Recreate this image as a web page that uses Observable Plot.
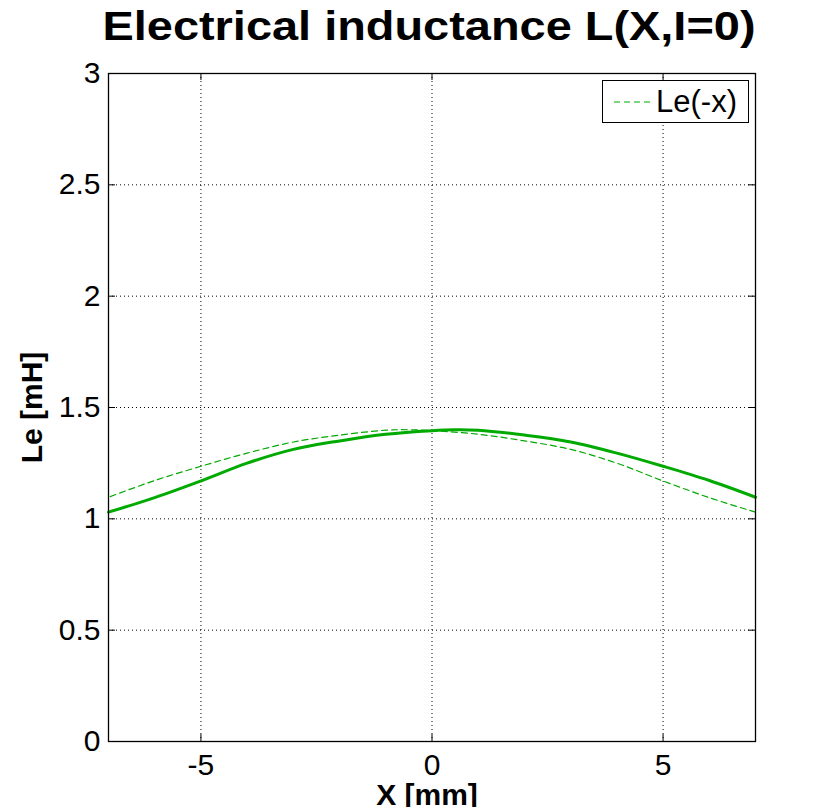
<!DOCTYPE html>
<html>
<head>
<meta charset="utf-8">
<script src="https://cdn.jsdelivr.net/npm/d3@7"></script>
<script src="https://cdn.jsdelivr.net/npm/@observablehq/plot@0.6"></script>
<style>
  html, body { margin: 0; padding: 0; background: #fff; }
  #wrap { position: relative; width: 834px; height: 807px; overflow: hidden; font-family: "Liberation Sans", Arial, sans-serif; }
  #legend { position: absolute; left: 602px; top: 80px; width: 145px; height: 41px; border: 1px solid #000; background: #fff; }
  #legend svg { position: absolute; left: 10px; top: 0; }
  #legend span { position: absolute; left: 53px; top: 3px; font-size: 31px; color: #000; }
</style>
</head>
<body>
<div id="wrap"></div>
<script>
// Data
const xs = [-7, -6, -5, -4, -3, -2, -1, 0, 0.5, 1, 2, 3, 4, 5, 6, 7];
const le = [1.03, 1.095, 1.17, 1.25, 1.312, 1.35, 1.38, 1.396, 1.40, 1.398, 1.376, 1.345, 1.295, 1.236, 1.172, 1.097];
const xTicks = [-5, 0, 5];
const yTicks = [0, 0.5, 1, 1.5, 2, 2.5, 3];
const yGrid = [0.5, 1, 1.5, 2, 2.5];
const titleText = "Electrical inductance L(X,I=0)";
const xLabel = "X [mm]";
const yLabel = "Le [mH]";
const legendLabel = "Le(-x)";
const green = "#00aa00";

const idx = xs.map((_, i) => i);

const chart = Plot.plot({
  width: 834,
  height: 807,
  marginLeft: 108,
  marginRight: 79,
  marginTop: 73,
  marginBottom: 66,
  style: { fontFamily: "'Liberation Sans', Arial, sans-serif", fontSize: "30px", background: "#fff", overflow: "visible" },
  x: { domain: [-7, 7] },
  y: { domain: [0, 3] },
  marks: [
    Plot.gridX(xTicks, { stroke: "#000", strokeOpacity: 1, strokeDasharray: "1,3" }),
    Plot.gridY(yGrid, { stroke: "#000", strokeOpacity: 1, strokeDasharray: "1,3" }),
    Plot.line(idx, { x: i => xs[i], y: i => le[i], stroke: green, strokeWidth: 3, curve: "catmull-rom" }),
    Plot.line(idx, { x: i => -xs[i], y: i => le[i], stroke: green, strokeWidth: 1.2, strokeDasharray: "6,4", curve: "catmull-rom" }),
    Plot.frame({ stroke: "#000", strokeWidth: 1.3 }),
    Plot.axisX(xTicks, { anchor: "bottom", tickSize: 0, tickPadding: 12, label: null, tickFormat: d => String(d), fontSize: 30 }),
    Plot.axisY(yTicks, { anchor: "left", tickSize: 0, tickPadding: 8, label: null, tickFormat: d => String(d), fontSize: 30 }),
    Plot.tickX(xTicks, { x: d => d, stroke: "#000", insetTop: 661 }),
    Plot.tickX(xTicks, { x: d => d, stroke: "#000", insetBottom: 661 }),
    Plot.tickY(yTicks, { y: d => d, stroke: "#000", insetRight: 640 }),
    Plot.tickY(yTicks, { y: d => d, stroke: "#000", insetLeft: 640 }),
    Plot.text([titleText], { text: d => d, frameAnchor: "top", dx: -3, dy: -34, lineAnchor: "bottom", fontSize: 40, fontWeight: "bold", fill: "#000" }),
    Plot.text([xLabel], { text: d => d, frameAnchor: "bottom", dx: -5, dy: 63, lineAnchor: "bottom", fontSize: 30, fontWeight: "bold", fill: "#000" }),
    Plot.text([yLabel], { text: d => d, frameAnchor: "left", textAnchor: "middle", dx: -76, rotate: -90, fontSize: 30, fontWeight: "bold", fill: "#000" })
  ]
});

// Stretch the title to the reference's wide rendering
for (const t of chart.querySelectorAll("text")) {
  if (t.textContent === titleText) {
    t.setAttribute("textLength", 653);
    t.setAttribute("lengthAdjust", "spacingAndGlyphs");
  }
}

const wrap = document.getElementById("wrap");
wrap.appendChild(chart);

const legend = document.createElement("div");
legend.id = "legend";
legend.innerHTML = `<svg width="40" height="41"><line x1="1" y1="21" x2="38" y2="21" stroke="${green}" stroke-width="1.2" stroke-dasharray="6,4"/></svg><span></span>`;
legend.querySelector("span").textContent = legendLabel;
wrap.appendChild(legend);
</script>
</body>
</html>
